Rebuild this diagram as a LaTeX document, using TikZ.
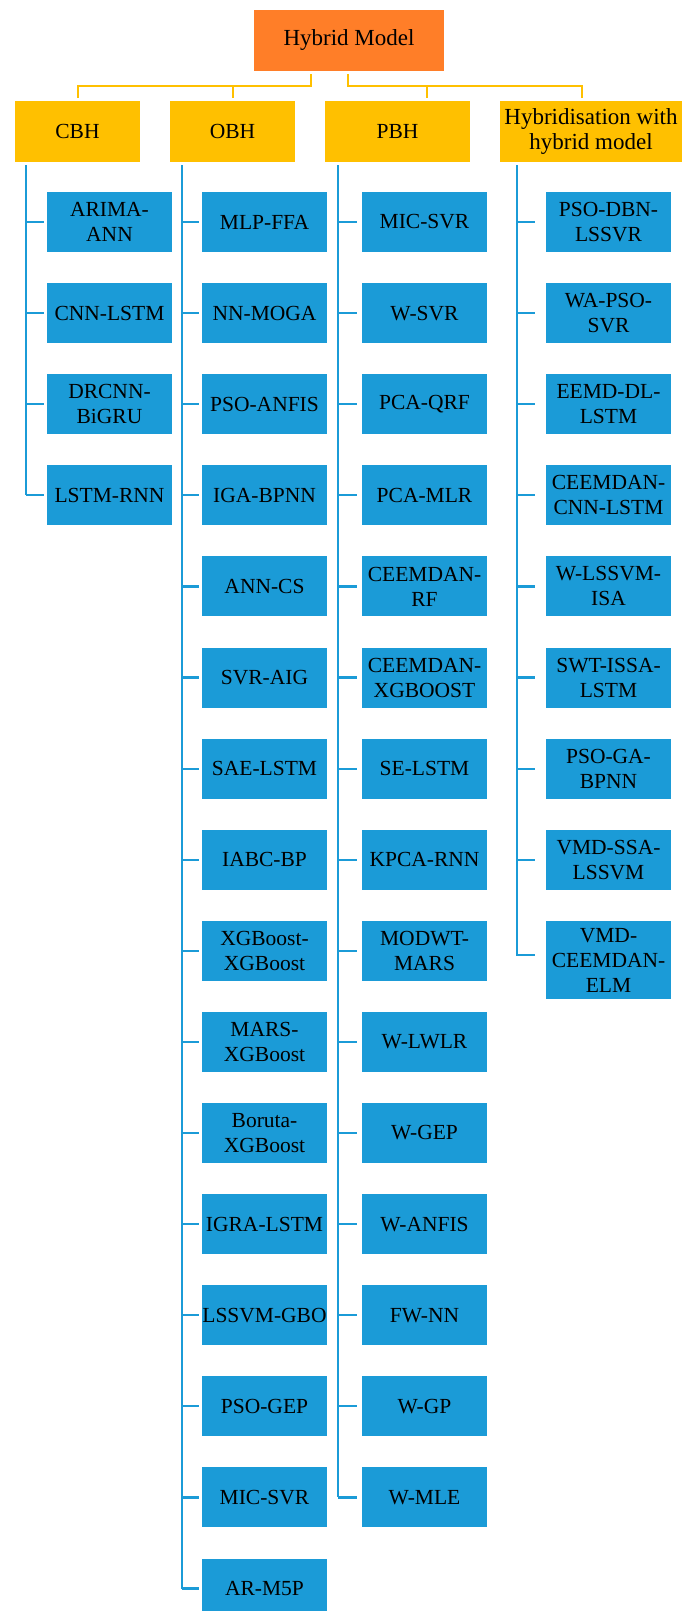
\documentclass[tikz,border=0pt]{standalone}
\usepackage{fontspec}
\setmainfont{Liberation Serif}
\usetikzlibrary{calc}
\definecolor{hmorange}{RGB}{255,126,40}
\definecolor{hmyellow}{RGB}{255,192,0}
\definecolor{hmblue}{RGB}{27,155,215}
\tikzset{
  box/.style={rectangle, inner sep=0pt, align=center, text=black,
    font=\fontsize{21.5}{25}\selectfont},
  bigtext/.style={font=\fontsize{23}{25}\selectfont},
  topbox/.style={box, bigtext, fill=hmorange, minimum width=190pt, minimum height=61pt},
  catbox/.style={box, fill=hmyellow, minimum height=61pt},
  leaf/.style={box, fill=hmblue, minimum width=125pt, minimum height=60pt},
  yline/.style={draw=hmyellow, line width=2pt},
  bline/.style={draw=hmblue, line width=2.2pt},
}
\begin{document}
\begin{tikzpicture}[x=1pt,y=-1pt]
\useasboundingbox (0,0) rectangle (682,1611);

\node[topbox] (hm) at (349,40.5) {Hybrid Model};
\node[catbox, minimum width=125pt] (cbh) at (77.5,131.5) {CBH};
\node[catbox, minimum width=125pt] (obh) at (232.5,131.5) {OBH};
\node[catbox, minimum width=145pt] (pbh) at (397.5,131.5) {PBH};
\node[catbox, bigtext, minimum width=182pt] (hwh) at (591,131.5) {Hybridisation with\\hybrid model};

\coordinate (jl) at (311,86);
\coordinate (jr) at (348,86);
\draw[yline] ($(hm.south -| jl)+(0,3)$) -- (jl) -| ($(cbh.north)+(0,-3)$);
\draw[yline] (jl -| obh.north) -- ($(obh.north)+(0,-3)$);
\draw[yline] ($(hm.south -| jr)+(0,3)$) -- (jr) -| ($(hwh.north)+(-9,-3)$);
\draw[yline] ($(jr -| pbh.north)+(29.5,0)$) -- ($(pbh.north)+(29.5,-3)$);

% CBH column
\coordinate (tc) at (26,165);
\foreach [count=\i] \lbl in {{ARIMA-\\ANN},{CNN-LSTM},{DRCNN-\\BiGRU},{LSTM-RNN}} {
  \node[leaf] (c\i) at (109.5,{222+(\i-1)*91.1}) {\lbl};
  \draw[bline] (tc |- c\i.west) -- ($(c\i.west)+(-3,0)$);
}
\draw[bline] (tc) -- (tc |- c4.west);

% OBH column
\coordinate (to) at (182,165);
\foreach [count=\i] \lbl in {{MLP-FFA},{NN-MOGA},{PSO-ANFIS},{IGA-BPNN},{ANN-CS},{SVR-AIG},{SAE-LSTM},{IABC-BP},{XGBoost-\\XGBoost},{MARS-\\XGBoost},{Boruta-\\XGBoost},{IGRA-LSTM},{LSSVM-GBO},{PSO-GEP},{MIC-SVR},{AR-M5P}} {
  \node[leaf] (o\i) at (264.5,{222+(\i-1)*91.1}) {\lbl};
  \draw[bline] (to |- o\i.west) -- ($(o\i.west)+(-3,0)$);
}
\draw[bline] (to) -- (to |- o16.west);

% PBH column
\coordinate (tp) at (338,165);
\foreach [count=\i] \lbl in {{MIC-SVR},{W-SVR},{PCA-QRF},{PCA-MLR},{CEEMDAN-\\RF},{CEEMDAN-\\XGBOOST},{SE-LSTM},{KPCA-RNN},{MODWT-\\MARS},{W-LWLR},{W-GEP},{W-ANFIS},{FW-NN},{W-GP},{W-MLE}} {
  \node[leaf] (p\i) at (424.5,{222+(\i-1)*91.1}) {\lbl};
  \draw[bline] (tp |- p\i.west) -- ($(p\i.west)+(-5,0)$);
}
\draw[bline] (tp) -- (tp |- p15.west);

% Hybridisation column
\coordinate (th) at (517,165);
\foreach [count=\i] \lbl in {{PSO-DBN-\\LSSVR},{WA-PSO-\\SVR},{EEMD-DL-\\LSTM},{CEEMDAN-\\CNN-LSTM},{W-LSSVM-\\ISA},{SWT-ISSA-\\LSTM},{PSO-GA-\\BPNN},{VMD-SSA-\\LSSVM}} {
  \node[leaf] (h\i) at (608.5,{222+(\i-1)*91.1}) {\lbl};
  \draw[bline] (th |- h\i.west) -- ($(h\i.west)+(-11,0)$);
}
\node[leaf, anchor=north, minimum height=78pt] (h9) at (608.5,{192+8*91.1}) {VMD-\\CEEMDAN-\\ELM};
\coordinate (h9t) at ($(h9.north west)+(-11,34)$);
\draw[bline] (th) |- (h9t);
\end{tikzpicture}
\end{document}
